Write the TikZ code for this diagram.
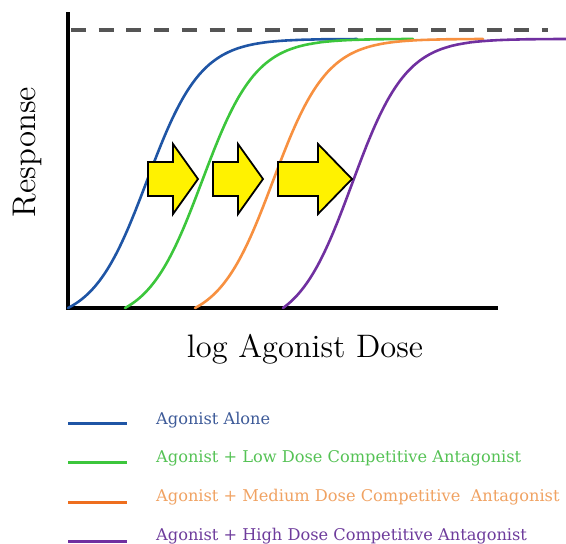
\documentclass[tikz,border=0pt]{standalone}
\usepackage{fontspec}
\newfontfamily\legfont{DejaVu Serif}
\definecolor{cblue}{HTML}{1F55A5}
\definecolor{cgreen}{HTML}{3CC63C}
\definecolor{corange}{HTML}{F79040}
\definecolor{cpurple}{HTML}{7030A0}
\definecolor{lorange}{HTML}{EE6E1E}
\definecolor{tblue}{HTML}{3D5A98}
\definecolor{tgreen}{HTML}{55C255}
\definecolor{torange}{HTML}{F0A262}
\definecolor{tpurple}{HTML}{6E3C9C}
\definecolor{dashgray}{HTML}{555555}
\tikzset{
  axisline/.style={line width=3.4pt, black},
  curve/.style={line width=2.6pt, line cap=round},
  legline/.style={line width=3pt},
  shiftarrow/.style={fill=yellow, draw=black, line width=1.8pt, line join=miter},
  legtext/.style={anchor=base west, inner sep=0pt, font=\legfont\fontsize{16.2}{18}\selectfont},
}
\begin{document}
\begin{tikzpicture}[x=1pt,y=-1pt,
  declare function={lg(\x,\m)=1/(1+exp(-(\x-\m)/27));
                    sg(\x,\m,\a,\b)=(lg(\x,\m)-lg(\a,\m))/(lg(\b,\m)-lg(\a,\m));}]
\useasboundingbox (0,0) rectangle (566,544);
% dashed max line
\draw[dashgray, line width=3.6pt, dash pattern=on 15pt off 12.7pt] (71,30) -- (548,30);
% axes
\coordinate (ytop) at (68,12);
\coordinate (orig) at (68,308);
\coordinate (xend) at (498,308);
\draw[axisline] (ytop) -- (orig) -- (xend);
% curves
\draw[curve, cblue] plot[domain=68:357, samples=120, smooth] (\x,{308-269*sg(\x,147,68,357)});
\draw[curve, cgreen] plot[domain=125:413, samples=120, smooth] (\x,{308-269*sg(\x,202,125,413)});
\draw[curve, corange] plot[domain=195:483, samples=120, smooth] (\x,{308-269*sg(\x,273,195,483)});
\draw[curve, cpurple] plot[domain=283:566, samples=120, smooth] (\x,{308-269*sg(\x,352,283,566)});
% shift arrows
\draw[shiftarrow] (148,162) -- (173,162) -- (173,144) -- (198,179) -- (173,214) -- (173,196) -- (148,196) -- cycle;
\draw[shiftarrow] (213,162) -- (238,162) -- (238,144) -- (263,179) -- (238,214) -- (238,196) -- (213,196) -- cycle;
\draw[shiftarrow] (278,162) -- (318,162) -- (318,144) -- (352,179) -- (318,214) -- (318,196) -- (278,196) -- cycle;
% axis labels
\node[rotate=90, anchor=base, inner sep=0pt] (ylab) at (35,152) {\resizebox{130pt}{!}{\fontsize{12}{14}\selectfont Response}};
\node[anchor=base, inner sep=0pt] (xlab) at (305,357) {\resizebox{236pt}{!}{\fontsize{12}{14}\selectfont log Agonist Dose}};
% legend
\coordinate (l1a) at (68,423); \coordinate (l1b) at (127,423);
\coordinate (l2a) at (68,462); \coordinate (l2b) at (127,462);
\coordinate (l3a) at (68,502); \coordinate (l3b) at (127,502);
\coordinate (l4a) at (68,541); \coordinate (l4b) at (127,541);
\draw[legline, cblue] (l1a) -- (l1b);
\draw[legline, cgreen] (l2a) -- (l2b);
\draw[legline, lorange] (l3a) -- (l3b);
\draw[legline, cpurple] (l4a) -- (l4b);
\node[legtext, text=tblue] (t1) at (156,424) {Agonist Alone};
\node[legtext, text=tgreen] (t2) at (156,462) {Agonist + Low Dose Competitive Antagonist};
\node[legtext, text=torange] (t3) at (156,501) {Agonist + Medium Dose Competitive\ \ Antagonist};
\node[legtext, text=tpurple] (t4) at (156,540) {Agonist + High Dose Competitive Antagonist};
\end{tikzpicture}
\end{document}
